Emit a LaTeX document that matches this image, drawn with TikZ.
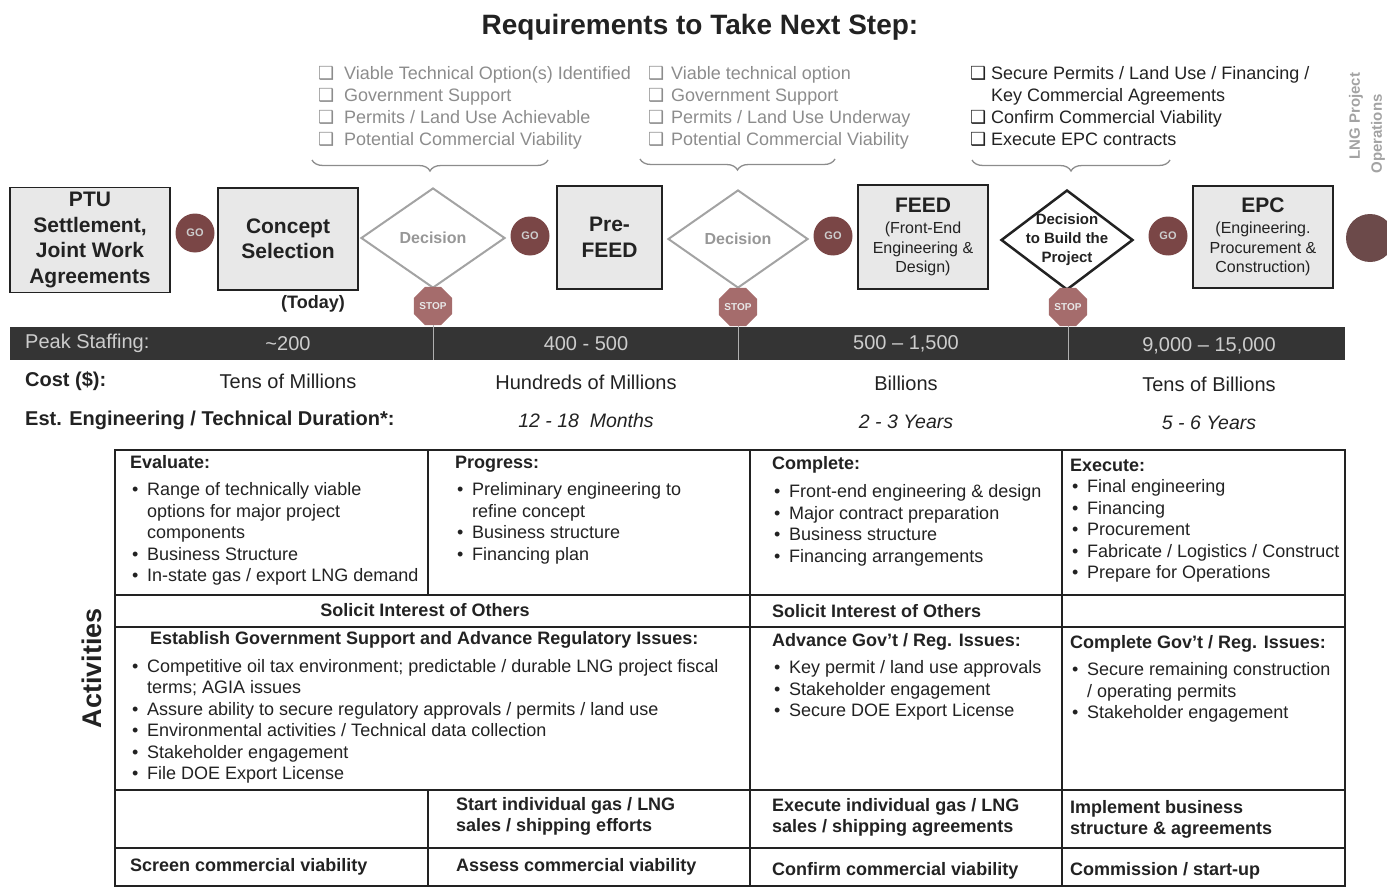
\documentclass[tikz,border=0pt]{standalone}
\usepackage{fontspec}
\setmainfont{Liberation Sans}
\newfontfamily\symfont{DejaVu Sans}
\usetikzlibrary{shapes.geometric,shapes.misc,decorations.pathreplacing,positioning}

\definecolor{ink}{RGB}{34,34,34}
\definecolor{lgray}{RGB}{140,140,140}
\definecolor{boxgray}{RGB}{232,232,232}
\definecolor{goRed}{RGB}{122,70,70}
\definecolor{stopRed}{RGB}{165,108,108}
\definecolor{endRed}{RGB}{108,74,74}
\definecolor{barcol}{RGB}{52,52,52}
\definecolor{bartxt}{RGB}{205,205,205}

\newcommand{\rows}[1]{\begin{tabular}[t]{@{}l@{}}#1\end{tabular}}
\newcommand{\bl}{\makebox[17pt][l]{\hspace{2pt}\textbullet}}
\newcommand{\ind}{\makebox[17pt]{}}
\newcommand{\cb}[1][24pt]{\makebox[#1][l]{\symfont ❑}}

\tikzset{
  stage/.style={draw=ink, line width=1.5pt, fill=boxgray, align=center, inner sep=2pt,
    text=ink, font=\fontsize{21}{25.5}\selectfont\bfseries},
  gosig/.style={circle, fill=goRed, minimum size=39pt, inner sep=0pt, text=bartxt,
    font=\fontsize{11}{11}\selectfont\bfseries},
  stopsig/.style={regular polygon, regular polygon sides=8, fill=stopRed, minimum size=40pt,
    inner sep=0pt, text=boxgray, font=\fontsize{10}{10}\selectfont\bfseries},
  gate/.style={diamond, draw=lgray!80, line width=2pt, minimum width=144pt, minimum height=100pt,
    inner sep=0pt},
  gatetext/.style={inner sep=0pt, text=lgray!90, align=center, font=\fontsize{16}{19}\selectfont\bfseries},
  chk/.style={anchor=base west, inner sep=0pt, font=\fontsize{18}{21.7}\selectfont},
  brc/.style={decorate, decoration={brace, mirror, amplitude=11pt}, draw=lgray, line width=1.3pt},
  bar/.style={fill=barcol, minimum width=1335pt, minimum height=33pt, inner sep=0pt},
  bartext/.style={text=bartxt, inner sep=0pt, font=\fontsize{20}{20}\selectfont},
  divider/.style={draw=lgray!70, line width=1pt},
  rowlab/.style={anchor=west, inner sep=0pt, text=ink, font=\fontsize{20}{20}\selectfont\bfseries},
  rowval/.style={inner sep=0pt, text=ink, font=\fontsize{20}{20}\selectfont},
  grid/.style={draw=ink, line width=1.6pt},
  cell/.style={anchor=base west, inner sep=0pt, text=ink, font=\fontsize{18}{21.5}\selectfont},
  cellb/.style={cell, font=\fontsize{18}{21.5}\selectfont\bfseries}
}

\begin{document}
\begin{tikzpicture}[x=1pt,y=-1pt]
\useasboundingbox (0,0) rectangle (1387,888);

% title
\node[font=\fontsize{28}{32}\selectfont\bfseries, text=ink] (title) at (700,27) {Requirements to Take Next Step:};

% requirements for each gate
\node[chk, text=lgray] (req1) at (318,80) {\rows{\cb[26pt]Viable Technical Option(s) Identified\\
\cb[26pt]Government Support\\ \cb[26pt]Permits / Land Use Achievable\\ \cb[26pt]Potential Commercial Viability}};
\node[chk, text=lgray] (req2) at (648,80) {\rows{\cb[23pt]Viable technical option\\
\cb[23pt]Government Support\\ \cb[23pt]Permits / Land Use Underway\\ \cb[23pt]Potential Commercial Viability}};
\node[chk, text=ink] (req3) at (970,80) {\rows{\cb[21pt]Secure Permits / Land Use / Financing /\\
\makebox[21pt]{}Key Commercial Agreements\\ \cb[21pt]Confirm Commercial Viability\\ \cb[21pt]Execute EPC contracts}};
\coordinate (br1a) at (312,160); \coordinate (br1b) at (548,160);
\coordinate (br2a) at (640,159); \coordinate (br2b) at (835,159);
\coordinate (br3a) at (972,160); \coordinate (br3b) at (1170,160);
\draw[brc] (br1a) -- (br1b);
\draw[brc] (br2a) -- (br2b);
\draw[brc] (br3a) -- (br3b);

\node[rotate=90, text=lgray!80, inner sep=0pt, font=\fontsize{15}{15}\selectfont\bfseries] (lng) at (1356,116) {LNG Project};
\node[rotate=90, text=lgray!80, inner sep=0pt, font=\fontsize{15}{15}\selectfont\bfseries] (ops) at (1378,134) {Operations};

% stages and gates
\node[stage, minimum width=160pt, minimum height=105pt] (ptu) at (90,240) {PTU\\Settlement,\\Joint Work\\Agreements};
\node[gosig] (go1) at (195,233) {GO};
\node[stage, minimum width=140pt, minimum height=102pt] (concept) at (288,239) {Concept\\Selection};
\node[inner sep=0pt, text=ink, font=\fontsize{18}{18}\selectfont\bfseries] (today) at (313,304) {(Today)};
\node[gate] (dec1) at (433,238) {};
\node[gatetext] (dec1t) at (dec1) {Decision};
\node[stopsig] (stop1) at (433,306) {STOP};
\node[gosig] (go2) at (530,236) {GO};
\node[stage, minimum width=105pt, minimum height=103pt] (prefeed) at (609.5,237.5) {Pre-\\FEED};
\node[gate, minimum width=140pt, minimum height=98pt] (dec2) at (738,239) {};
\node[gatetext] (dec2t) at (dec2) {Decision};
\node[stopsig] (stop2) at (738,307) {STOP};
\node[gosig] (go3) at (833,236) {GO};
\node[stage, minimum width=130pt, minimum height=104pt, font=\fontsize{16}{19.5}\selectfont] (feed) at (923,237)
  {{\fontsize{21}{21}\selectfont\bfseries FEED}\\[2pt](Front-End\\Engineering \&\\Design)};
\node[gate, draw=ink, line width=2.5pt, minimum width=132pt, minimum height=100pt] (dec3) at (1067,240) {};
\node[gatetext, text=ink, font=\fontsize{15}{19}\selectfont\bfseries] (dec3t) at (dec3) {Decision\\to Build the\\Project};
\node[stopsig] (stop3) at (1068,307) {STOP};
\node[gosig] (go4) at (1168,236) {GO};
\node[stage, minimum width=140pt, minimum height=102pt, font=\fontsize{16}{19.5}\selectfont] (epc) at (1263,237)
  {{\fontsize{21}{21}\selectfont\bfseries EPC}\\[2pt](Engineering.\\Procurement \&\\Construction)};
\node[circle, fill=endRed, minimum size=48pt, inner sep=0pt] (ops1) at (1370,238) {};

% staffing, cost, duration
\node[bar] (staff) at (677.5,343.5) {};
\draw[divider] (stop1.south) -- (stop1.south |- staff.south);
\draw[divider] (stop2.south) -- (stop2.south |- staff.south);
\draw[divider] (stop3.south) -- (stop3.south |- staff.south);
\node[bartext, anchor=west] (pk) at (25,343.5) {Peak Staffing:};
\node[bartext] (pk1) at (288,343.5) {\textasciitilde 200};
\node[bartext] (pk2) at (586,344) {400 - 500};
\node[bartext] (pk3) at (906,344) {500 -- 1,500};
\node[bartext] (pk4) at (1209,346) {9,000 -- 15,000};

\node[rowlab] (cost) at (25,381) {Cost (\$):};
\node[rowval] (c1) at (288,381) {Tens of Millions};
\node[rowval] (c2) at (586,382) {Hundreds of Millions};
\node[rowval] (c3) at (906,383) {Billions};
\node[rowval] (c4) at (1209,384) {Tens of Billions};

\node[rowlab] (dur) at (25,420) {Est. Engineering / Technical Duration*:};
\node[rowval, font=\fontsize{19.5}{19.5}\selectfont\itshape] (d2) at (586,421) {12 - 18~~Months};
\node[rowval, font=\fontsize{19.5}{19.5}\selectfont\itshape] (d3) at (906,422) {2 - 3 Years};
\node[rowval, font=\fontsize{19.5}{19.5}\selectfont\itshape] (d4) at (1209,423) {5 - 6 Years};

% activities table
\node[rotate=90, inner sep=0pt, text=ink, font=\fontsize{27}{27}\selectfont\bfseries] (act) at (92,668) {Activities};
\draw[grid] (115,450) rectangle (1345,886);
\draw[grid] (115,595) -- (1345,595);
\draw[grid] (115,627) -- (1345,627);
\draw[grid] (115,790) -- (1345,790);
\draw[grid] (115,848) -- (1345,848);
\draw[grid] (428,450) -- (428,595);
\draw[grid] (428,790) -- (428,886);
\draw[grid] (750,450) -- (750,886);
\draw[grid] (1062,450) -- (1062,886);

\node[cell] (eval) at (130,468) {\rows{\textbf{Evaluate:}\\[6pt]
\bl Range of technically viable\\ \ind options for major project\\ \ind components\\
\bl Business Structure\\ \bl In-state gas / export LNG demand}};
\node[cell] (prog) at (455,468) {\rows{\textbf{Progress:}\\[6pt]
\bl Preliminary engineering to\\ \ind refine concept\\ \bl Business structure\\ \bl Financing plan}};
\node[cell] (compl) at (772,469) {\rows{\textbf{Complete:}\\[7pt]
\bl Front-end engineering \& design\\ \bl Major contract preparation\\ \bl Business structure\\ \bl Financing arrangements}};
\node[cell] (exec) at (1070,471) {\rows{\textbf{Execute:}\\
\bl Final engineering\\ \bl Financing\\ \bl Procurement\\ \bl Fabricate / Logistics / Construct\\ \bl Prepare for Operations}};

\node[cellb, anchor=center] (sol1) at (425,610) {Solicit Interest of Others};
\node[cellb, anchor=west] (sol2) at (772,611) {Solicit Interest of Others};

\node[cellb, anchor=west] (gov1) at (150,640) {Establish Government Support and Advance Regulatory Issues:};
\node[cell] (gov1b) at (130,672) {\rows{\bl Competitive oil tax environment; predictable / durable LNG project fiscal\\
\ind terms; AGIA issues\\ \bl Assure ability to secure regulatory approvals / permits / land use\\
\bl Environmental activities / Technical data collection\\ \bl Stakeholder engagement\\ \bl File DOE Export License}};
\node[cell] (gov2) at (772,646) {\rows{\textbf{Advance Gov't / Reg. Issues:}\\[6pt]
\bl Key permit / land use approvals\\ \bl Stakeholder engagement\\ \bl Secure DOE Export License}};
\node[cell] (gov3) at (1070,648) {\rows{\textbf{Complete Gov't / Reg. Issues:}\\[6pt]
\bl Secure remaining construction\\ \ind / operating permits\\ \bl Stakeholder engagement}};

\node[cellb] (sales2) at (456,810) {\rows{Start individual gas / LNG\\ sales / shipping efforts}};
\node[cellb] (sales3) at (772,811) {\rows{Execute individual gas / LNG\\ sales / shipping agreements}};
\node[cellb] (sales4) at (1070,813) {\rows{Implement business\\ structure \& agreements}};

\node[cellb, anchor=west] (via1) at (130,867) {Screen commercial viability};
\node[cellb, anchor=west] (via2) at (456,867) {Assess commercial viability};
\node[cellb, anchor=west] (via3) at (772,871) {Confirm commercial viability};
\node[cellb, anchor=west] (via4) at (1070,871) {Commission / start-up};
\end{tikzpicture}
\end{document}
